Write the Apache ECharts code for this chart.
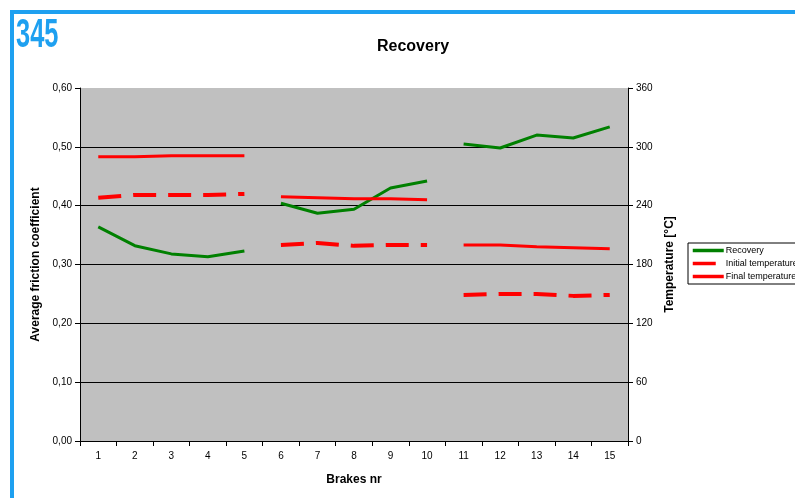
<!DOCTYPE html>
<html>
<head>
<meta charset="utf-8">
<script src="https://cdn.jsdelivr.net/npm/echarts@6/dist/echarts.min.js"></script>
<style>
html,body{margin:0;padding:0;background:#fff;}
#c{width:795px;height:498px;}
</style>
</head>
<body>
<div id="c"></div>
<script>
const brakes = ['1','2','3','4','5','6','7','8','9','10','11','12','13','14','15'];
const recovery = [0.364,0.332,0.318,0.313,0.323, 0.404,0.387,0.394,0.430,0.442, 0.505,0.498,0.520,0.515,0.534];
const initialTemp = [248,251,251,251,252, 200,202,199,200,200, 149,150,150,148,149];
const finalTemp = [290,290,291,291,291, 249,248,247,247,246, 200,200,198,197,196];
const segStarts = [0,5,10];

function segmented(arr){
  const out = [];
  segStarts.forEach((s) => {
    const d = new Array(brakes.length).fill(null);
    for (let k = s; k < s + 5; k++) d[k] = arr[k];
    out.push(d);
  });
  return out;
}

const chart = echarts.init(document.getElementById('c'), null, {renderer:'canvas'});
const FONT = 'Liberation Sans, Arial, sans-serif';

const series = [];
const defs = [
  {name:'Recovery', data:recovery, axis:0, color:'#008000', type:'solid', w:3},
  {name:'Initial temperature', data:initialTemp, axis:1, color:'#FF0000', type:[23,12], w:4},
  {name:'Final temperature', data:finalTemp, axis:1, color:'#FF0000', type:'solid', w:3}
];
defs.forEach(d => {
  segmented(d.data).forEach(seg => {
    series.push({
      name:d.name, type:'line', yAxisIndex:d.axis, data:seg,
      symbol:'none', connectNulls:false, silent:true, animation:false,
      lineStyle:{color:d.color, width:d.w, type:d.type},
      itemStyle:{color:d.color}
    });
  });
});

chart.setOption({
  animation:false,
  backgroundColor:'#fff',
  textStyle:{fontFamily:FONT},
  title:{text:'Recovery', left:408, top:34, textAlign:'center',
    textStyle:{fontFamily:FONT, fontSize:16, fontWeight:'bold', color:'#000'}},
  grid:{left:80, right:167, top:88, bottom:57, show:true, backgroundColor:'#C0C0C0', borderWidth:0},
  legend:{
    data:['Recovery','Initial temperature','Final temperature'],
    orient:'vertical', left:688, top:243,
    backgroundColor:'#fff', borderColor:'#000', borderWidth:1, borderRadius:0,
    padding:[3,8,3,3], itemWidth:31, itemHeight:10, itemGap:4,
    itemStyle:{opacity:0},
    lineStyle:{width:3.5},
    textStyle:{fontFamily:FONT, fontSize:9, color:'#000', padding:[0,0,0,-3]}
  },
  xAxis:{
    type:'category', data:brakes, boundaryGap:true,
    name:'Brakes nr', nameLocation:'middle', nameGap:33,
    nameTextStyle:{fontFamily:FONT, fontSize:12, fontWeight:'bold', color:'#000'},
    axisLine:{lineStyle:{color:'#000', width:1}},
    axisTick:{show:true, length:5, lineStyle:{color:'#000'}},
    axisLabel:{fontFamily:FONT, fontSize:10, color:'#000', margin:10}
  },
  yAxis:[
    {
      type:'value', min:0, max:0.6, interval:0.1, position:'left',
      name:'Average friction coefficient', nameLocation:'middle', nameGap:36,
      nameTextStyle:{fontFamily:FONT, fontSize:12, fontWeight:'bold', color:'#000'},
      axisLine:{show:true, lineStyle:{color:'#000', width:1}},
      axisTick:{show:true, length:5, lineStyle:{color:'#000'}},
      axisLabel:{fontFamily:FONT, fontSize:10, color:'#000', margin:8,
        formatter:v=>v.toFixed(2).replace('.',',')},
      splitLine:{show:true, showMaxLine:false, lineStyle:{color:'#000', width:1}}
    },
    {
      type:'value', min:0, max:360, interval:60, position:'right',
      name:'Temperature [°C]', nameLocation:'middle', nameGap:36,
      nameTextStyle:{fontFamily:FONT, fontSize:12, fontWeight:'bold', color:'#000'},
      axisLine:{show:true, lineStyle:{color:'#000', width:1}},
      axisTick:{show:true, length:5, lineStyle:{color:'#000'}},
      axisLabel:{fontFamily:FONT, fontSize:10, color:'#000', margin:8},
      splitLine:{show:false}
    }
  ],
  graphic:[
    {type:'rect', left:10, top:10, shape:{width:785, height:4}, style:{fill:'#1EA0F0'}},
    {type:'rect', left:10, top:10, shape:{width:4, height:488}, style:{fill:'#1EA0F0'}},
    {type:'text', x:16, y:15, scaleX:0.62, style:{text:'345', fill:'#1EA0F0',
      font:'bold 41px "Liberation Sans", Arial, sans-serif'}}
  ],
  series:series
});
</script>
</body>
</html>
